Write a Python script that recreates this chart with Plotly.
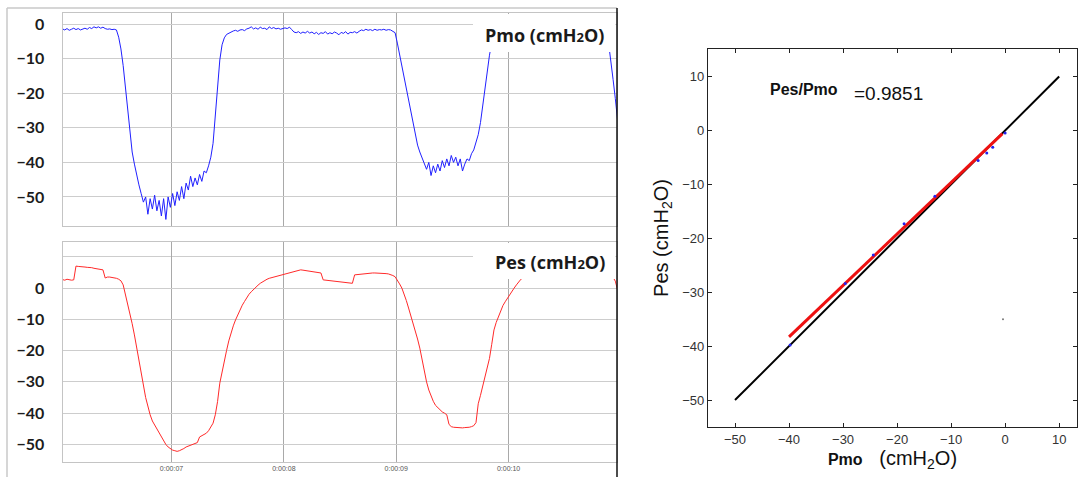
import plotly.graph_objects as go

W, H = 1079, 477

# ---------------- data ----------------
# sampling times of the two recordings (s); one sample every 0.02 s
time_s = [round(6.03 + 0.02 * i, 2) for i in range(248)]

# mouth pressure (cmH2O)
pmo_values = [
    -1.4, -1.7, -1.3, -1.8, -1.5, -1.2, -1.6, -1.3, -1.7, -1.4,
    -1.2, -1.5, -1.0, -1.3, -0.8, -1.1, -0.8, -1.2, -0.9, -1.3,
    -1.5, -1.4, -1.6, -1.5, -1.7, -3.8, -7.2, -12.0, -18.4, -25.0,
    -31.0, -37.0, -40.5, -44.0, -46.5, -49.0, -51.5, -50.0, -55.0, -50.5,
    -53.5, -49.5, -54.0, -51.0, -55.5, -50.5, -56.5, -50.0, -53.0, -49.0,
    -52.5, -48.5, -51.0, -47.0, -50.5, -46.0, -48.0, -44.0, -47.0, -44.5,
    -46.5, -43.5, -45.5, -42.5, -43.0, -41.0, -38.5, -34.5, -25.5, -18.0,
    -10.4, -6.0, -4.0, -3.0, -2.6, -2.3, -2.0, -1.8, -2.1, -1.7,
    -1.6, -1.9, -1.4, -1.2, -0.8, -1.4, -1.1, -1.5, -0.9, -1.3,
    -1.2, -1.6, -0.8, -1.3, -1.0, -1.4, -1.2, -1.5, -1.3, -1.1,
    -1.3, -0.9, -1.6, -2.3, -2.5, -2.2, -2.7, -2.3, -2.6, -2.1,
    -2.6, -2.3, -2.8, -2.4, -3.0, -2.5, -2.7, -2.2, -2.9, -2.5,
    -2.8, -2.3, -2.6, -3.1, -2.4, -2.7, -2.2, -2.9, -2.4, -2.5,
    -2.2, -2.6, -2.1, -1.7, -1.9, -1.5, -1.8, -1.6, -1.9, -1.5,
    -1.8, -1.6, -1.7, -1.5, -1.8, -1.6, -1.7, -2.0, -2.5, -5.5,
    -8.8, -12.3, -15.8, -19.2, -22.8, -26.0, -29.2, -32.2, -35.0, -37.0,
    -38.5, -40.5, -42.0, -40.0, -43.8, -41.0, -43.0, -40.5, -42.5, -39.5,
    -41.5, -39.0, -41.0, -38.0, -40.0, -38.5, -41.0, -39.0, -42.5, -40.5,
    -39.0, -39.5, -37.5, -36.4, -34.5, -32.0, -28.5, -23.5, -17.8, -13.0,
    -9.0, -5.5, -3.5, -2.6, -2.2, -2.0, -2.3, -1.9, -2.1, -1.8,
    -2.0, -1.7, -2.2, -1.9, -2.1, -1.8, -2.0, -1.6, -2.1, -1.9,
    -2.0, -1.8, -2.2, -1.7, -2.0, -1.9, -2.1, -1.8, -2.0, -1.7,
    -2.1, -1.9, -2.0, -1.8, -2.2, -1.9, -2.0, -1.7, -2.1, -1.9,
    -2.0, -1.8, -2.1, -1.9, -2.0, -1.8, -2.2, -1.9, -2.0, -2.1,
    -2.0, -2.4, -3.5, -5.5, -10.0, -16.0, -21.5, -27.7,
]

# oesophageal pressure (cmH2O)
pes_values = [
    2.7, 2.5, 2.8, 2.6, 2.5, 2.6, 7.0, 6.9, 6.9, 6.8,
    6.7, 6.6, 6.6, 6.5, 6.3, 6.2, 6.0, 5.9, 5.8, 3.2,
    3.5, 3.5, 3.4, 3.3, 3.1, 2.8, 2.3, 1.0, -2.0, -4.8,
    -7.8, -11.4, -15.0, -18.7, -23.2, -27.0, -31.0, -35.0, -38.2, -40.5,
    -42.5, -43.8, -45.0, -46.2, -47.3, -48.7, -50.0, -50.8, -51.4, -51.8,
    -52.0, -52.2, -52.0, -51.7, -51.3, -50.8, -50.5, -50.2, -50.0, -49.7,
    -49.4, -47.6, -47.2, -46.8, -46.4, -45.6, -44.5, -43.2, -40.5, -36.3,
    -30.4, -26.5, -23.3, -20.0, -16.9, -14.3, -12.1, -10.2, -8.5, -6.8,
    -5.5, -4.3, -3.0, -2.0, -1.2, -0.4, 0.2, 0.9, 1.5, 2.0,
    2.4, 2.8, 3.1, 3.3, 3.5, 3.7, 3.9, 4.1, 4.3, 4.4,
    4.6, 4.8, 5.0, 5.2, 5.4, 5.6, 5.8, 5.7, 5.6, 5.6,
    5.4, 5.3, 5.1, 5.0, 4.9, 4.8, 2.6, 2.5, 2.4, 2.4,
    2.3, 2.2, 2.1, 2.0, 1.9, 1.8, 1.7, 1.6, 1.5, 1.5,
    4.2, 4.3, 4.4, 4.5, 4.6, 4.6, 4.7, 4.7, 4.8, 4.8,
    4.8, 4.8, 4.8, 4.7, 4.6, 4.5, 4.3, 4.0, 3.6, 2.6,
    1.3, 0.0, -1.9, -4.0, -6.4, -8.7, -11.0, -13.4, -16.3, -19.2,
    -23.0, -27.0, -30.0, -32.6, -34.5, -36.2, -37.5, -38.3, -39.0, -39.6,
    -40.0, -40.5, -43.6, -44.3, -44.5, -44.6, -44.7, -44.6, -44.7, -44.6,
    -44.6, -44.5, -44.3, -44.0, -43.0, -37.0, -34.3, -31.5, -28.5, -26.0,
    -22.5, -18.0, -13.4, -11.0, -9.0, -7.0, -5.6, -4.4, -3.2, -2.1,
    -1.0, 0.0, 1.0, 2.0, 2.8, 3.4, 3.8, 4.1, 4.3, 4.4,
    4.5, 4.5, 4.6, 4.6, 4.5, 4.6, 4.7, 4.6, 4.5, 4.6,
    4.6, 4.5, 4.5, 4.6, 4.5, 4.4, 4.5, 4.4, 4.4, 4.3,
    4.4, 4.3, 4.3, 4.2, 4.3, 4.2, 4.2, 4.1, 4.2, 4.1,
    4.1, 4.0, 3.9, 3.8, 3.6, 3.4, 2.2, -0.6,
]

time_ticks = [7, 8, 9, 10]
time_labels = ["0:00:07", "0:00:08", "0:00:09", "0:00:10"]
left_y_ticks = [0, -10, -20, -30, -40, -50]
pes_extra_grid = [10]

# scatter panel
identity_x = [-50, 10]
identity_y = [-50, 10]
fit_x = [-40, -0.5]
fit_y = [-38.3, -0.6]
point_x = [-39.8, -29.6, -24.4, -18.7, -13.0, -5.0, -3.4, -2.3, 0.0]
point_y = [-39.8, -28.4, -23.1, -17.3, -12.2, -5.6, -4.2, -3.1, -0.5]
stray_x = [-0.4]
stray_y = [-35.0]
scatter_ticks = [-50, -40, -30, -20, -10, 0, 10]
ratio_text = "=0.9851"

# ---------------- layout helpers ----------------
def px_x(p):
    return p / W

def px_y(p):
    return 1 - p / H

L_X0, L_X1 = 62.5, 617
TOP_Y0, TOP_Y1 = 13, 226
BOT_Y0, BOT_Y1 = 242, 462
R_X0, R_X1 = 708, 1077
R_Y0, R_Y1 = 49, 427

fig = go.Figure()

fig.add_trace(go.Scatter(x=time_s, y=pmo_values, mode="lines",
                         line=dict(color="#2020ff", width=1), xaxis="x", yaxis="y",
                         showlegend=False, hoverinfo="skip"))
fig.add_trace(go.Scatter(x=time_s, y=pes_values, mode="lines",
                         line=dict(color="#ff2a2a", width=1), xaxis="x2", yaxis="y2",
                         showlegend=False, hoverinfo="skip"))

fig.add_trace(go.Scatter(x=identity_x, y=identity_y, mode="lines",
                         line=dict(color="black", width=2), xaxis="x3", yaxis="y3",
                         showlegend=False))
fig.add_trace(go.Scatter(x=fit_x, y=fit_y, mode="lines",
                         line=dict(color="#ee1111", width=3), xaxis="x3", yaxis="y3",
                         showlegend=False))
fig.add_trace(go.Scatter(x=point_x, y=point_y, mode="markers",
                         marker=dict(color="#2222ee", size=3), xaxis="x3", yaxis="y3",
                         showlegend=False))
fig.add_trace(go.Scatter(x=stray_x, y=stray_y, mode="markers",
                         marker=dict(color="#777777", size=2), xaxis="x3", yaxis="y3",
                         showlegend=False))

border = "#c4c4c4"
hgrid = "#cdcdcd"
vgrid = "#a9a9a9"
tick_font = dict(family="Lato", size=16, color="#1c1c1c", weight="bold")

common_x = dict(domain=[px_x(L_X0), px_x(L_X1)], range=[6.03, 10.965],
                tickvals=time_ticks, ticktext=time_labels, showgrid=True,
                gridcolor=vgrid, gridwidth=1, zeroline=False, showline=True,
                linecolor=border, mirror=True, ticks="")

fig.update_layout(
    width=W, height=H,
    margin=dict(l=0, r=0, t=0, b=0),
    paper_bgcolor="white", plot_bgcolor="white",
    showlegend=False,
    xaxis=dict(common_x, anchor="y", showticklabels=False),
    yaxis=dict(domain=[px_y(TOP_Y1), px_y(TOP_Y0)], range=[-58.4, 3.2],
               tickvals=left_y_ticks, showgrid=True, gridcolor=hgrid,
               zeroline=False, showline=True, linecolor=border, mirror=True,
               ticks="", tickfont=tick_font, ticklabelstandoff=14, anchor="x"),
    xaxis2=dict(common_x, anchor="y2", showticklabels=True,
                tickfont=dict(family="Liberation Sans", size=7, color="#555555")),
    yaxis2=dict(domain=[px_y(BOT_Y1), px_y(BOT_Y0)], range=[-55.6, 14.7],
                tickvals=left_y_ticks, showgrid=True,
                gridcolor=hgrid, zeroline=False, showline=True, linecolor=border,
                mirror=True, ticks="", tickfont=tick_font, ticklabelstandoff=14,
                minor=dict(tickmode="array", tickvals=pes_extra_grid, showgrid=True,
                           gridcolor=hgrid, gridwidth=1, ticks=""),
                anchor="x2"),
    xaxis3=dict(domain=[px_x(R_X0), px_x(R_X1)], range=[-55, 13.3],
                tickvals=scatter_ticks, showgrid=False, zeroline=False,
                showline=True, linecolor="#222", linewidth=1.3, mirror="ticks",
                ticks="inside", ticklen=4, tickcolor="#222",
                tickfont=dict(family="Liberation Sans", size=13, color="#333"),
                title=dict(text="<b><span style='font-size:16px'>Pmo</span></b>   (cmH<sub>2</sub>O)",
                           font=dict(family="Liberation Sans", size=20, color="#111"),
                           standoff=2),
                anchor="y3"),
    yaxis3=dict(domain=[px_y(R_Y1), px_y(R_Y0)], range=[-55, 15.1],
                tickvals=scatter_ticks, showgrid=False, zeroline=False,
                showline=True, linecolor="#222", linewidth=1.3, mirror="ticks",
                ticks="inside", ticklen=4, tickcolor="#222",
                tickfont=dict(family="Liberation Sans", size=13, color="#333"),
                title=dict(text="Pes (cmH<sub>2</sub>O)",
                           font=dict(family="Liberation Sans", size=20, color="#111"),
                           standoff=8),
                anchor="x3"),
)

shapes = []
# white label boxes covering the top-right corner of each trace panel
box_x0 = (473 - L_X0) / (L_X1 - L_X0)
shapes.append(dict(type="rect", xref="x domain", yref="y domain", layer="above",
                   x0=box_x0, x1=0.997, y0=(TOP_Y1 - 52) / (TOP_Y1 - TOP_Y0),
                   y1=(TOP_Y1 - 14) / (TOP_Y1 - TOP_Y0),
                   fillcolor="white", line=dict(width=0)))
shapes.append(dict(type="rect", xref="x2 domain", yref="y2 domain", layer="above",
                   x0=box_x0, x1=0.997, y0=(BOT_Y1 - 279) / (BOT_Y1 - BOT_Y0),
                   y1=(BOT_Y1 - 243) / (BOT_Y1 - BOT_Y0),
                   fillcolor="white", line=dict(width=0)))
# outer frame of the left figure
shapes.append(dict(type="line", xref="paper", yref="paper", layer="above",
                   x0=px_x(7), x1=px_x(7), y0=px_y(8), y1=0,
                   line=dict(color="#c8c8c8", width=1.5)))
shapes.append(dict(type="line", xref="paper", yref="paper", layer="above",
                   x0=px_x(7), x1=px_x(617), y0=px_y(8), y1=px_y(8),
                   line=dict(color="#c8c8c8", width=1.5)))
shapes.append(dict(type="line", xref="paper", yref="paper", layer="above",
                   x0=px_x(617), x1=px_x(617), y0=px_y(8), y1=0,
                   line=dict(color="#111111", width=1.5)))
fig.update_layout(shapes=shapes)

label_font = dict(family="Open Sans", size=18, color="#1a1a1a", weight="bold")
annotations = [
    dict(text="Pmo (cmH<span style='font-size:13px'>2</span>O)", xref="paper", yref="paper",
         x=px_x(483), y=px_y(35), xanchor="left", yanchor="middle",
         showarrow=False, font=label_font),
    dict(text="Pes (cmH<span style='font-size:13px'>2</span>O)", xref="paper", yref="paper",
         x=px_x(493), y=px_y(262), xanchor="left", yanchor="middle",
         showarrow=False, font=label_font),
    dict(text="<b>Pes/Pmo</b>", xref="x3", yref="y3", x=-43.9, y=7.6,
         xanchor="left", yanchor="middle", showarrow=False,
         font=dict(family="Liberation Sans", size=16, color="#111")),
    dict(text=ratio_text, xref="x3", yref="y3", x=-28.3, y=6.9,
         xanchor="left", yanchor="middle", showarrow=False,
         font=dict(family="Liberation Sans", size=19, color="#111")),
]
fig.update_layout(annotations=annotations)

fig.write_html("out.html")
